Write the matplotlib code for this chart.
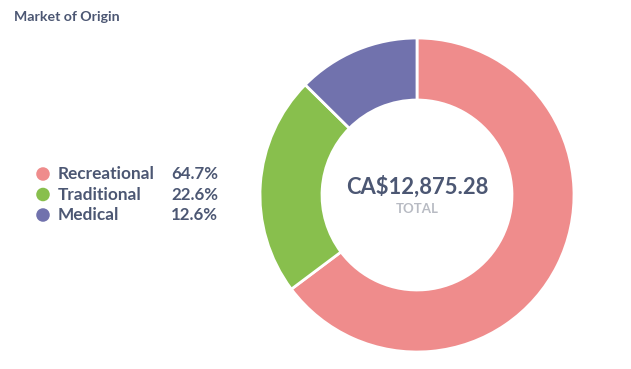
import matplotlib.pyplot as plt

labels = ['Recreational', 'Traditional', 'Medical']
shares = [64.7, 22.6, 12.6]
colors = ['#EF8C8C', '#88BF4D', '#7172AD']
total_text = 'CA$12,875.28'

plt.rcParams['font.family'] = ['Lato', 'DejaVu Sans']
text_color = '#4C5773'

W, H = 631, 369
fig = plt.figure(figsize=(W / 100, H / 100), dpi=100)

# donut
cx, cy, r = 417, 195, 157
ax = fig.add_axes([(cx - r) / W, (H - cy - r) / H, 2 * r / W, 2 * r / H])
ax.pie(shares, colors=colors, startangle=90, counterclock=False,
       wedgeprops=dict(width=0.395, edgecolor='white', linewidth=2))
ax.set_xlim(-1, 1)
ax.set_ylim(-1, 1)
ax.text(0, 0.055, total_text, ha='center', va='center', fontsize=15.8,
        fontweight='bold', color=text_color)
ax.text(0, -0.09, 'TOTAL', ha='center', va='center', fontsize=9.5,
        fontweight='bold', color='#B8BBC3')

# overlay for title and legend, in pixel coords
ov = fig.add_axes([0, 0, 1, 1])
ov.set_xlim(0, W)
ov.set_ylim(H, 0)
ov.axis('off')
ov.text(14, 17, 'Market of Origin', ha='left', va='center', fontsize=10.2,
        fontweight='bold', color=text_color)

y0, dy = 174, 20.5
for i, (lab, val, col) in enumerate(zip(labels, shares, colors)):
    y = y0 + i * dy
    ov.scatter([43], [y], s=95, color=col, edgecolors='none')
    ov.text(58, y, lab, ha='left', va='center', fontsize=12.4,
            fontweight='bold', color=text_color)
    ov.text(218, y, f'{val:.1f}%', ha='right', va='center', fontsize=12.2,
            fontweight='bold', color=text_color)

fig.savefig('out.png', dpi=100)
